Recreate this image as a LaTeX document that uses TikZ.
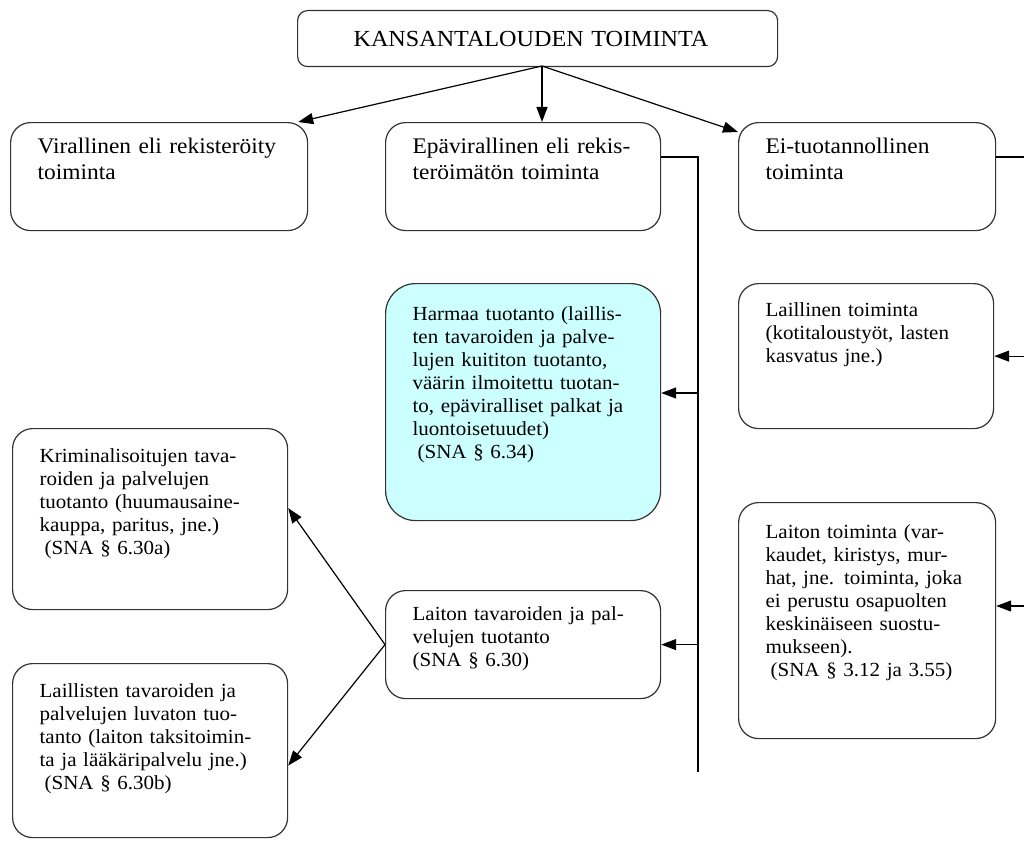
\documentclass[tikz,border=0pt]{standalone}
\usepackage{fontspec}
\setmainfont[FakeStretch=1.05]{Liberation Serif}
\usetikzlibrary{arrows.meta}
\definecolor{harmaacyan}{RGB}{204,255,255}
\definecolor{reuna}{RGB}{51,51,51}
\begin{document}
\begin{tikzpicture}[x=1pt, y=-1pt,
  toimbox/.style={draw=reuna, line width=1.2pt, rounded corners=20pt, anchor=north west,
    align=left, inner xsep=27pt, inner ysep=0pt, font=\fontsize{20}{23}\selectfont},
  ylabox/.style={toimbox, font=\fontsize{22.3}{26}\selectfont},
  yhteys/.style={line width=1.2pt},
  nuoli/.style={line width=1.2pt, -{Triangle[length=15pt,width=11pt]}}]
\useasboundingbox (0,0) rectangle (1024,840);
% ylin taso
\node[draw=reuna, line width=1.2pt, rounded corners=10pt, anchor=north west, align=left,
  text width=368pt, inner xsep=56pt, minimum height=56pt,
  font=\fontsize{23}{26}\selectfont] (kansan) at (297,10) {KANSANTALOUDEN TOIMINTA};
\coordinate (kansanlahto) at (542,66);
% toinen taso
\node[ylabox, text width=243pt, text height=31pt, text depth=77pt] (viral) at (10,122)
  {Virallinen eli rekisteröity\\toiminta};
\node[ylabox, text width=221pt, text height=31pt, text depth=77pt] (epaviral) at (385,122)
  {Epävirallinen eli rekis-\\teröimätön toiminta};
\node[ylabox, text width=203pt, text height=31pt, text depth=77pt] (eituot) at (738,122)
  {Ei-tuotannollinen\\toiminta};
\draw[nuoli] (kansanlahto) -- ([xshift=-10pt]viral.north east);
\draw[nuoli] (kansanlahto) -- (kansanlahto |- epaviral.north);
\draw[nuoli] (kansanlahto) -- ([yshift=-10pt]eituot.north west);
% epavirallinen haara
\node[toimbox, fill=harmaacyan, rounded corners=30pt, text width=221pt, text height=37pt, text depth=200pt] (harmaa) at (385,283)
  {Harmaa tuotanto (laillis-\\ten tavaroiden ja palve-\\lujen kuititon tuotanto,\\väärin ilmoitettu tuotan-\\to, epäviralliset palkat ja\\luontoisetuudet)\\\hspace*{.25em}(SNA § 6.34)};
\node[toimbox, text width=221pt, text height=30pt, text depth=78pt] (laitontuot) at (385,590)
  {Laiton tavaroiden ja pal-\\velujen tuotanto\\(SNA § 6.30)};
\coordinate (vylä) at (698,157);
\coordinate (vala) at (698,772);
\coordinate (vharmaa) at (698,393);
\draw[yhteys] (epaviral.east |- vylä) -- (vylä) -- (vala);
\draw[nuoli] (vharmaa) -- (harmaa.east |- vharmaa);
\draw[nuoli] (laitontuot.east -| vylä) -- (laitontuot.east);
% laiton tuotanto
\node[toimbox, text width=221pt, text height=34pt, text depth=147pt] (krimi) at (12,428)
  {Kriminalisoitujen tava-\\roiden ja palvelujen\\tuotanto (huumausaine-\\kauppa, paritus, jne.)\\\hspace*{.25em}(SNA § 6.30a)};
\node[toimbox, text width=221pt, text height=34pt, text depth=140pt] (luvaton) at (12,663)
  {Laillisten tavaroiden ja\\palvelujen luvaton tuo-\\tanto (laiton taksitoimin-\\ta ja lääkäripalvelu jne.)\\\hspace*{.25em}(SNA § 6.30b)};
\draw[nuoli] (laitontuot.west) -- ([yshift=11pt]krimi.east);
\draw[nuoli] (laitontuot.west) -- ([yshift=-15pt]luvaton.east);
% ei-tuotannollinen haara
\node[toimbox, text width=201pt, text height=33pt, text depth=112pt] (laillinen) at (738,283)
  {Laillinen toiminta\\(kotitaloustyöt, lasten\\kasvatus jne.)};
\node[toimbox, text width=203pt, text height=36pt, text depth=200pt] (laitontoim) at (738,502)
  {Laiton toiminta (var-\\kaudet, kiristys, mur-\\hat, jne. toiminta, joka\\ei perustu osapuolten\\keskinäiseen suostu-\\mukseen).\\\hspace*{.25em}(SNA § 3.12 ja 3.55)};
\coordinate (oylä) at (1024,157);
\coordinate (olaiton) at (1024,606);
\draw[yhteys] (eituot.east |- oylä) -- (oylä);
\draw[nuoli] (laillinen.east -| oylä) -- (laillinen.east);
\draw[nuoli] (olaiton) -- (laitontoim.east |- olaiton);
\end{tikzpicture}
\end{document}
